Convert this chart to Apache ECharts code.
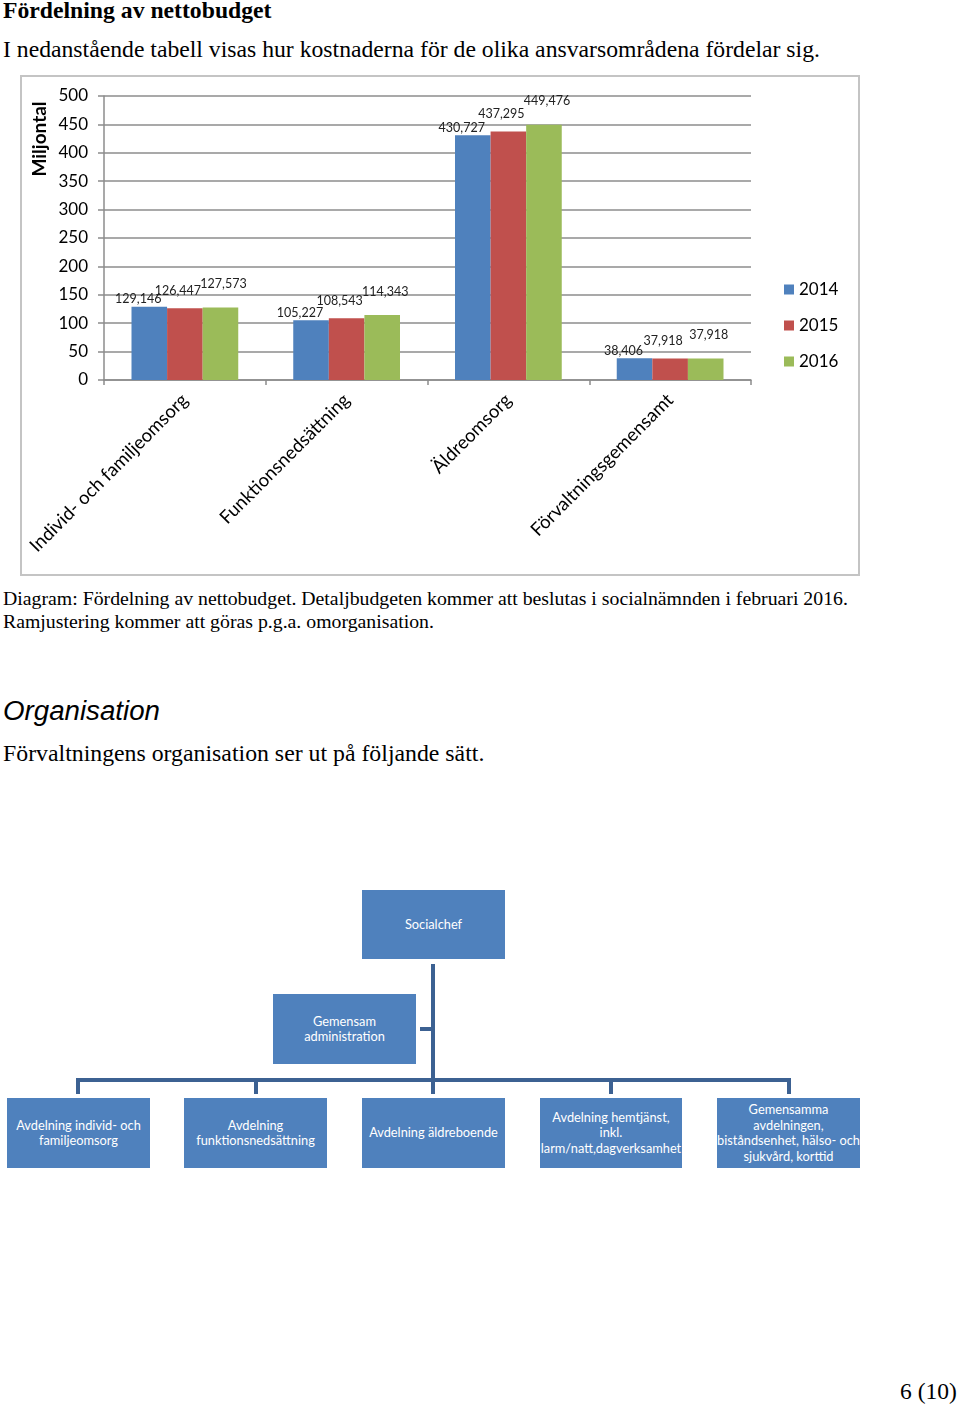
<!DOCTYPE html>
<html>
<head>
<meta charset="utf-8">
<script src="https://cdn.jsdelivr.net/npm/echarts@6/dist/echarts.min.js"></script>
<style>
  html, body { margin:0; padding:0; background:#fff; }
  body { width:960px; height:1406px; position:relative; overflow:hidden; }
  .t { position:absolute; white-space:nowrap; color:#000; font-family:"Liberation Serif","Times New Roman",serif; }
  .box { position:absolute; background:#4f81bd; color:#fff; font-family:Lato,"Open Sans",sans-serif; font-size:12.8px; line-height:15.5px; display:flex; align-items:center; justify-content:center; text-align:center; white-space:nowrap; }
  .ln { position:absolute; background:#3c6192; }
</style>
</head>
<body>
<div class="t" style="left:3px;top:-3px;font-size:23.7px;font-weight:bold;line-height:27px;">Fördelning av nettobudget</div>
<div class="t" style="left:3px;top:36px;font-size:23.7px;line-height:27px;">I nedanstående tabell visas hur kostnaderna för de olika ansvarsområdena fördelar sig.</div>

<div id="chart" style="position:absolute;left:20px;top:75px;width:840px;height:501px;"></div>
<div style="position:absolute;left:20px;top:75px;width:840px;height:501px;box-sizing:border-box;border:2px solid #c4c4c4;pointer-events:none;"></div>

<div class="t" style="left:3px;top:587px;font-size:19.8px;line-height:23px;">Diagram: Fördelning av nettobudget. Detaljbudgeten kommer att beslutas i socialnämnden i februari 2016.</div>
<div class="t" style="left:3px;top:610px;font-size:19.8px;line-height:23px;">Ramjustering kommer att göras p.g.a. omorganisation.</div>

<div class="t" style="left:3px;top:695px;font-size:27.7px;line-height:32px;font-style:italic;font-family:'Liberation Sans',Arial,sans-serif;">Organisation</div>
<div class="t" style="left:3px;top:740px;font-size:23.8px;line-height:27px;">Förvaltningens organisation ser ut på följande sätt.</div>

<!-- org chart connectors -->
<div class="ln" style="left:431px;top:964px;width:4px;height:130px;"></div>
<div class="ln" style="left:420px;top:1027px;width:13px;height:4px;"></div>
<div class="ln" style="left:76px;top:1078px;width:715px;height:4px;"></div>
<div class="ln" style="left:76px;top:1078px;width:4px;height:16px;"></div>
<div class="ln" style="left:254px;top:1078px;width:4px;height:16px;"></div>
<div class="ln" style="left:609px;top:1078px;width:4px;height:16px;"></div>
<div class="ln" style="left:787px;top:1078px;width:4px;height:16px;"></div>

<div class="box" style="left:362px;top:890px;width:143px;height:69px;">Socialchef</div>
<div class="box" style="left:273px;top:994px;width:143px;height:70px;">Gemensam<br>administration</div>
<div class="box" style="left:7px;top:1098px;width:143px;height:70px;">Avdelning individ- och<br>familjeomsorg</div>
<div class="box" style="left:184px;top:1098px;width:143px;height:70px;">Avdelning<br>funktionsnedsättning</div>
<div class="box" style="left:362px;top:1098px;width:143px;height:70px;">Avdelning äldreboende</div>
<div class="box" style="left:540px;top:1098px;width:142px;height:70px;">Avdelning hemtjänst,<br>inkl.<br>larm/natt,dagverksamhet</div>
<div class="box" style="left:717px;top:1098px;width:143px;height:70px;">Gemensamma<br>avdelningen,<br>biståndsenhet, hälso- och<br>sjukvård, korttid</div>

<div class="t" style="left:900px;top:1378px;font-size:23.5px;line-height:27px;">6 (10)</div>

<script>
const categories = ['Individ- och familjeomsorg', 'Funktionsnedsättning', 'Äldreomsorg', 'Förvaltningsgemensamt'];
const years = ['2014', '2015', '2016'];
const values2014 = [129.146, 105.227, 430.727, 38.406];
const values2015 = [126.447, 108.543, 437.295, 37.918];
const values2016 = [127.573, 114.343, 449.476, 37.918];
const yTicks = { min: 0, max: 500, interval: 50 };

const colors = ['#4f81bd', '#c0504d', '#9bbb59'];
const FONT = 'Lato';
const fmt = p => p.value.toFixed(3).replace('.', ',');
const labelOffsets = [[-11, 2], [-7, -8], [3, -14]];

const chart = echarts.init(document.getElementById('chart'));
const seriesData = [values2014, values2015, values2016];
chart.setOption({
  animation: false,
  color: colors,
  grid: { left: 84, top: 21, width: 647, height: 284, containLabel: false },
  legend: {
    orient: 'vertical', left: 759, top: 201, itemGap: 19,
    itemWidth: 10, itemHeight: 10, icon: 'rect',
    textStyle: { fontFamily: FONT, fontSize: 17, color: '#000' },
    data: years
  },
  xAxis: {
    type: 'category', data: categories,
    axisLine: { lineStyle: { color: '#8c8c8c', width: 1.5 } },
    axisTick: { show: true, length: 5, lineStyle: { color: '#8c8c8c', width: 1.5 } },
    axisLabel: { rotate: 45, fontFamily: FONT, fontSize: 18.5, color: '#000', margin: 17, interval: 0 }
  },
  yAxis: {
    type: 'value', min: yTicks.min, max: yTicks.max, interval: yTicks.interval,
    axisLine: { show: true, lineStyle: { color: '#8c8c8c', width: 1.5 } },
    axisTick: { show: true, length: 6, lineStyle: { color: '#8c8c8c', width: 1.5 } },
    axisLabel: { fontFamily: FONT, fontSize: 17, color: '#000', margin: 16 },
    splitLine: { lineStyle: { color: '#8c8c8c', width: 1.5 } }
  },
  graphic: [{
    type: 'text', x: 20, y: 64, rotation: Math.PI / 2,
    style: { text: 'Miljontal', font: 'bold 19px Lato', fill: '#000', align: 'center', verticalAlign: 'middle' }
  }],
  series: years.map((y, i) => ({
    name: y, type: 'bar', data: seriesData[i],
    barGap: '0%', barCategoryGap: '34%',
    label: { show: true, position: 'top', distance: 3, offset: labelOffsets[i], formatter: fmt, fontFamily: FONT, fontSize: 12.5, color: '#222' }
  }))
});
</script>
</body>
</html>
